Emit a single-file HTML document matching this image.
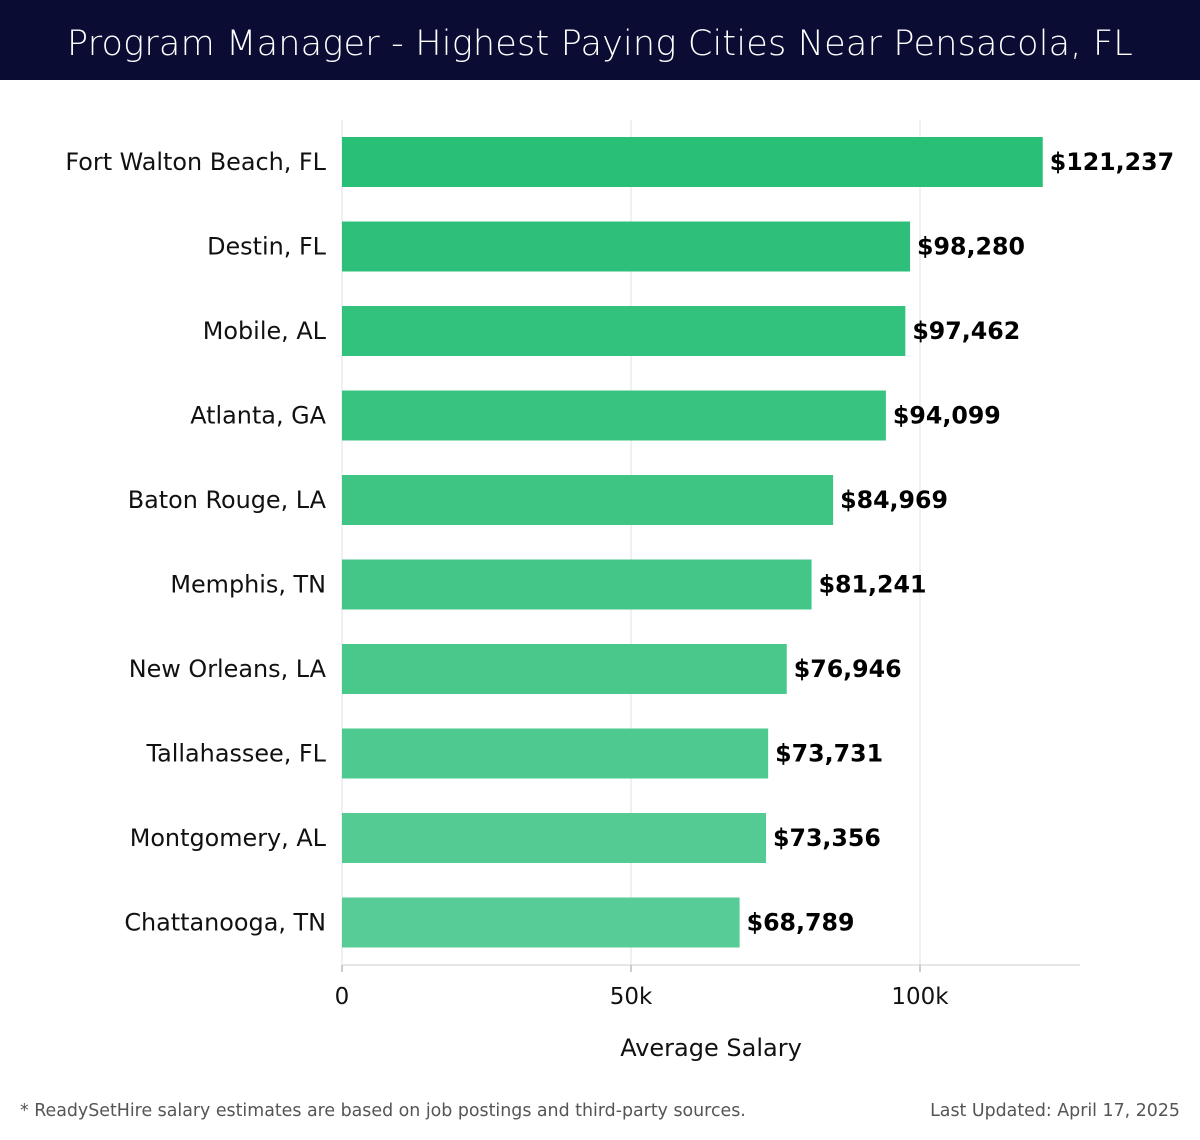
<!DOCTYPE html>
<html><head><meta charset="utf-8">
<style>
body{margin:0;width:1200px;height:1140px;background:#fff;font-family:"Liberation Sans","DejaVu Sans",sans-serif;overflow:hidden;position:relative}
#hdr{position:absolute;left:0;top:0;width:1200px;height:80px;background:#0b0c33;color:#fff;font-size:35px;text-align:center;line-height:88px;font-family:"DejaVu Sans","Liberation Sans",sans-serif;font-weight:300;letter-spacing:0.2px}
.foot{position:absolute;top:1101px;font-size:17.4px;color:#555;font-family:"DejaVu Sans",sans-serif}
</style></head><body>
<div id="hdr">Program Manager - Highest Paying Cities Near Pensacola, FL</div>
<svg id="chart" width="1200" height="1140" style="position:absolute;left:0;top:0"></svg>
<div class="foot" style="left:20px">* ReadySetHire salary estimates are based on job postings and third-party sources.</div>
<div class="foot" style="right:20px">Last Updated: April 17, 2025</div>
<script>
const cities=["Fort Walton Beach, FL","Destin, FL","Mobile, AL","Atlanta, GA","Baton Rouge, LA","Memphis, TN","New Orleans, LA","Tallahassee, FL","Montgomery, AL","Chattanooga, TN"];
const salaries=[121237,98280,97462,94099,84969,81241,76946,73731,73356,68789];
const ticks=[0,50000,100000];
const tickLabels=["0","50k","100k"];
const NS="http://www.w3.org/2000/svg";
const svg=document.getElementById('chart');
const x0=342,pxPer=(920-342)/100000;
const xs=v=>x0+v*pxPer;
const yTop=120,step=84.5,bh=50;
const yc=i=>162+i*step;
function mk(t,a){const e=document.createElementNS(NS,t);for(const k in a)e.setAttribute(k,a[k]);svg.appendChild(e);return e;}
ticks.forEach((t,i)=>{
 if(t>0){const g=mk('line',{x1:xs(t),x2:xs(t),y1:yTop,y2:965,stroke:'#e2e2e2','stroke-width':1});
 
 }
 const tk=mk('line',{x1:xs(t),x2:xs(t),y1:965,y2:972,stroke:'#999'});
 
 
 const tl=mk('text',{x:xs(t),y:1004,'text-anchor':'middle','font-size':23,fill:'#111','font-family':'DejaVu Sans, sans-serif'});
 tl.textContent=tickLabels[i];
 
 
});
const ax=mk('line',{x1:342,x2:1080,y1:965,y2:965,stroke:'#ccc'});


const ay=mk('line',{x1:342,x2:342,y1:yTop,y2:965,stroke:'#e2e2e2'});


const c0=[41,191,118],c1=[88,204,150];
cities.forEach((c,i)=>{
 const f=i/(cities.length-1);
 const col=`rgb(${c0.map((v,k)=>Math.round(v+(c1[k]-v)*f)).join(',')})`;
 const b=mk('rect',{x:x0,y:yc(i)-bh/2,width:xs(salaries[i])-x0,height:bh,fill:col});
 
 
 const l=mk('text',{x:326,y:yc(i)+8,'text-anchor':'end','font-size':23.9,fill:'#111','font-family':'DejaVu Sans, sans-serif'});
 l.textContent=c;
 
 
 const v=mk('text',{x:xs(salaries[i])+7,y:yc(i)+8,'font-size':23.7,'font-weight':'bold',fill:'#000','font-family':'DejaVu Sans, sans-serif'});
 v.textContent='$'+salaries[i].toLocaleString('en-US');
 
 
});
const xt=mk('text',{x:711,y:1056,'text-anchor':'middle','font-size':24,fill:'#111','font-family':'DejaVu Sans, sans-serif'});
xt.textContent='Average Salary';


</script>
</body></html>
